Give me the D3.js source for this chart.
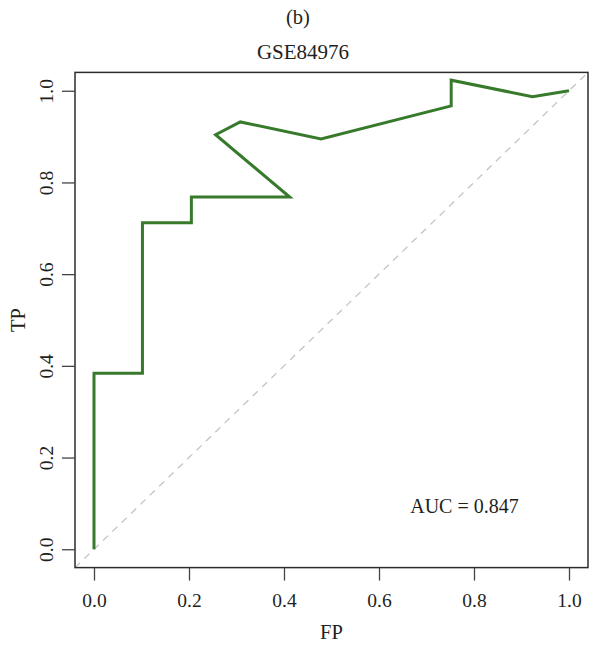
<!DOCTYPE html>
<html><head><meta charset="utf-8">
<script src="https://cdn.jsdelivr.net/npm/d3@7"></script>
<style>body{margin:0;background:#fff}svg{display:block}text{font-family:"Liberation Serif","DejaVu Serif",serif;fill:#231f20}</style>
</head><body>
<script>
const fpValues = [0.000, 0.000, 0.102, 0.102, 0.205, 0.205, 0.412, 0.256, 0.308, 0.478, 0.752, 0.752, 0.923, 1.000];
const tpValues = [0.000, 0.384, 0.384, 0.712, 0.712, 0.768, 0.768, 0.904, 0.932, 0.895, 0.967, 1.023, 0.987, 1.000];
const tickValues = [0, 0.2, 0.4, 0.6, 0.8, 1.0];
const panelLabel = "(b)";
const titleText = "GSE84976";
const xLabel = "FP";
const yLabel = "TP";
const aucText = "AUC = 0.847";

const W = 593, H = 646;
const svg = d3.select("body").append("svg").attr("width", W).attr("height", H);
const x = d3.scaleLinear().domain([-0.04, 1.04]).range([75, 588]);
const y = d3.scaleLinear().domain([-0.04, 1.04]).range([567.6, 72.4]);

// diagonal reference
svg.append("line")
  .attr("x1", x(-0.04)).attr("y1", y(-0.04)).attr("x2", x(1.04)).attr("y2", y(1.04))
  .attr("stroke", "#c4c4c4").attr("stroke-width", 1.3).attr("stroke-dasharray", "7,6");

// curve
const pts = fpValues.map((d, i) => [d, tpValues[i]]);
svg.append("path").datum(pts)
  .attr("d", d3.line().x(d => x(d[0])).y(d => y(d[1])))
  .attr("fill", "none").attr("stroke", "#387a2b").attr("stroke-width", 3)
  .attr("stroke-linejoin", "miter");

// box
svg.append("rect").attr("x", x(-0.04)).attr("y", y(1.04))
  .attr("width", x(1.04) - x(-0.04)).attr("height", y(-0.04) - y(1.04))
  .attr("fill", "none").attr("stroke", "#2b2b2b").attr("stroke-width", 1.5);

// axes
const fmt = d3.format(".1f");
const xAxis = svg.append("g").attr("transform", `translate(0,${y(-0.04)})`)
  .call(d3.axisBottom(x).tickValues(tickValues).tickFormat(fmt).tickSize(13).tickPadding(9));
const yAxis = svg.append("g").attr("transform", `translate(${x(-0.04)},0)`)
  .call(d3.axisLeft(y).tickValues(tickValues).tickFormat(fmt).tickSize(13).tickPadding(0));
[xAxis, yAxis].forEach(g => {
  g.select(".domain").remove();
  g.selectAll(".tick line").attr("stroke", "#444").attr("stroke-width", 1.3);
  g.selectAll("text").style("font-size", "19.5px").attr("fill", "#231f20")
    .style("font-family", '"Liberation Serif",serif');
});
xAxis.selectAll(".tick text").attr("y", 0).attr("dy", 0)
  .attr("transform", "translate(0,33)").attr("dominant-baseline", "central");
yAxis.selectAll(".tick text")
  .attr("x", 0).attr("dy", 0)
  .attr("text-anchor", "middle")
  .attr("transform", "translate(-29,0) rotate(-90)")
  .attr("y", 0).attr("dominant-baseline", "central");

// titles
svg.append("text").attr("x", 298).attr("y", 17).attr("text-anchor", "middle")
  .attr("dominant-baseline", "central").style("font-size", "20.5px").text(panelLabel);
svg.append("text").attr("x", 303).attr("y", 52).attr("text-anchor", "middle")
  .attr("dominant-baseline", "central").style("font-size", "21px").text(titleText);
svg.append("text").attr("x", x(0.5)).attr("y", 632).attr("text-anchor", "middle")
  .attr("dominant-baseline", "central").style("font-size", "20.5px").text(xLabel);
svg.append("text").attr("transform", `translate(18,${y(0.5)}) rotate(-90)`)
  .attr("text-anchor", "middle").attr("dominant-baseline", "central")
  .style("font-size", "20.5px").text(yLabel);
svg.append("text").attr("x", x(0.78)).attr("y", 506).attr("text-anchor", "middle")
  .attr("dominant-baseline", "central").style("font-size", "20px").text(aucText);
</script>
</body></html>
